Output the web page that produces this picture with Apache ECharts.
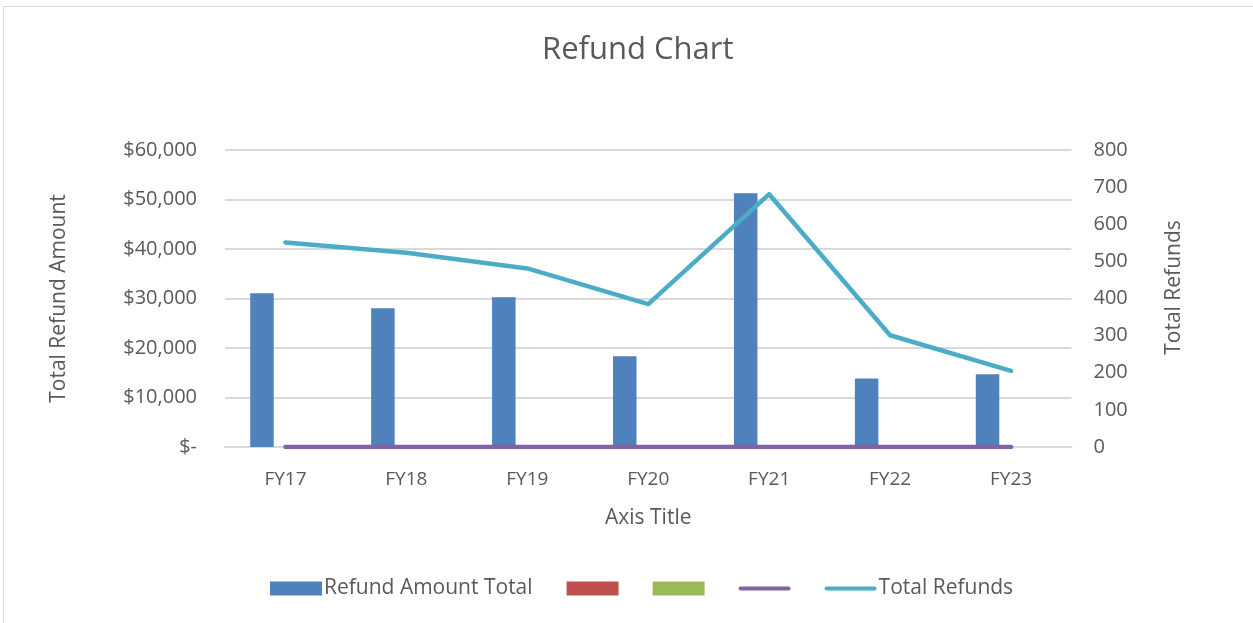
<!DOCTYPE html>
<html>
<head>
<meta charset="utf-8">
<title>Refund Chart</title>
<script src="https://cdn.jsdelivr.net/npm/echarts@6/dist/echarts.min.js"></script>
<style>
  html, body { margin: 0; padding: 0; background: #fff; }
  #chart { width: 1253px; height: 623px; }
</style>
</head>
<body>
<div id="chart"></div>
<script>
// data
const categories = ['FY17', 'FY18', 'FY19', 'FY20', 'FY21', 'FY22', 'FY23'];
const refundAmount = [31050, 28020, 30240, 18320, 51250, 13830, 14700];
const series2 = [0, 0, 0, 0, 0, 0, 0];
const series3 = [0, 0, 0, 0, 0, 0, 0];
const series4 = [0, 0, 0, 0, 0, 0, 0];
const totalRefunds = [551, 523, 481, 385, 681, 301, 205];

const textColor = '#595959';
const fontFamily = '"Open Sans", sans-serif';
// thin rounded bar used as legend icon for the line series
const lineIcon = 'path://M2.25,0 L54.75,0 A2.25,2.25 0 0 1 54.75,4.5 L2.25,4.5 A2.25,2.25 0 0 1 2.25,0 Z';

const chart = echarts.init(document.getElementById('chart'), null, { renderer: 'canvas' });

function moneyLabel(v) {
    if (v === 0) return '$-';
    return '$' + v.toLocaleString('en-US');
}

const option = {
    backgroundColor: '#fff',
    textStyle: { fontFamily: fontFamily, color: textColor },
    animation: false,
    title: {
        text: 'Refund Chart',
        left: 537,
        top: 30,
        textStyle: {
            fontFamily: fontFamily,
            fontSize: 31,
            fontWeight: 'normal',
            color: textColor
        }
    },
    graphic: [
        {
            type: 'rect',
            shape: { x: 3.5, y: 6.5, width: 1300, height: 700 },
            style: { fill: 'none', stroke: '#d9d9d9', lineWidth: 1 },
            silent: true
        }
    ],
    grid: {
        left: 225,
        right: 181.5,
        top: 150,
        bottom: 176
    },
    legend: {
        left: 265,
        top: 573,
        itemWidth: 52,
        itemHeight: 14,
        itemGap: 34,
        data: [
            { name: 'Refund Amount Total', icon: 'rect' },
            { name: 'Series2', icon: 'rect' },
            { name: 'Series3', icon: 'rect' },
            { name: 'Series4', icon: lineIcon, itemStyle: { borderWidth: 0 } },
            { name: 'Total Refunds', icon: lineIcon, itemStyle: { borderWidth: 0 } }
        ],
        formatter: function (name) {
            return name.indexOf('Series') === 0 ? '' : name;
        },
        textStyle: {
            fontFamily: fontFamily,
            fontSize: 21,
            color: textColor,
            padding: [0, 0, 0, -3]
        }
    },
    xAxis: {
        type: 'category',
        data: categories,
        name: 'Axis Title',
        nameLocation: 'middle',
        nameGap: 61,
        nameTextStyle: { fontFamily: fontFamily, fontSize: 21, color: textColor },
        axisLine: { lineStyle: { color: '#d9d9d9', width: 2 } },
        axisTick: { show: false },
        axisLabel: {
            margin: 23,
            fontFamily: fontFamily,
            fontSize: 19,
            color: textColor
        }
    },
    yAxis: [
        {
            type: 'value',
            min: 0,
            max: 60000,
            interval: 10000,
            name: 'Total Refund Amount',
            nameLocation: 'middle',
            nameGap: 155,
            nameTextStyle: { fontFamily: fontFamily, fontSize: 21, color: textColor },
            axisLine: { show: false },
            axisTick: { show: false },
            splitLine: { lineStyle: { color: '#d9d9d9', width: 2 } },
            axisLabel: {
                margin: 28,
                fontFamily: fontFamily,
                fontSize: 20,
                color: textColor,
                formatter: moneyLabel
            }
        },
        {
            type: 'value',
            min: 0,
            max: 800,
            interval: 100,
            name: 'Total Refunds',
            nameLocation: 'middle',
            nameGap: 92,
            nameRotate: 90,
            nameTextStyle: { fontFamily: fontFamily, fontSize: 21, color: textColor, padding: [0, 0, 0, 22] },
            axisLine: { show: false },
            axisTick: { show: false },
            splitLine: { show: false },
            axisLabel: {
                margin: 22,
                fontFamily: fontFamily,
                fontSize: 20,
                color: textColor
            }
        }
    ],
    series: [
        {
            name: 'Refund Amount Total',
            type: 'bar',
            yAxisIndex: 0,
            data: refundAmount,
            barWidth: 23.5,
            barGap: '0%',
            itemStyle: { color: '#4f81bd' }
        },
        {
            name: 'Series2',
            type: 'bar',
            yAxisIndex: 0,
            data: series2,
            barWidth: 23.5,
            barGap: '0%',
            itemStyle: { color: '#c0504d' }
        },
        {
            name: 'Series3',
            type: 'bar',
            yAxisIndex: 0,
            data: series3,
            barWidth: 23.5,
            barGap: '0%',
            itemStyle: { color: '#9bbb59' }
        },
        {
            name: 'Series4',
            type: 'line',
            yAxisIndex: 0,
            data: series4,
            symbol: 'none',
            z: 3,
            lineStyle: { color: '#8064a2', width: 4.5, cap: 'round' },
            itemStyle: { color: '#8064a2' }
        },
        {
            name: 'Total Refunds',
            type: 'line',
            yAxisIndex: 1,
            data: totalRefunds,
            symbol: 'none',
            z: 4,
            lineStyle: { color: '#4bacc6', width: 4.5, cap: 'round', join: 'round' },
            itemStyle: { color: '#4bacc6' }
        }
    ]
};

chart.setOption(option);
window.addEventListener('resize', () => chart.resize());
</script>
</body>
</html>
